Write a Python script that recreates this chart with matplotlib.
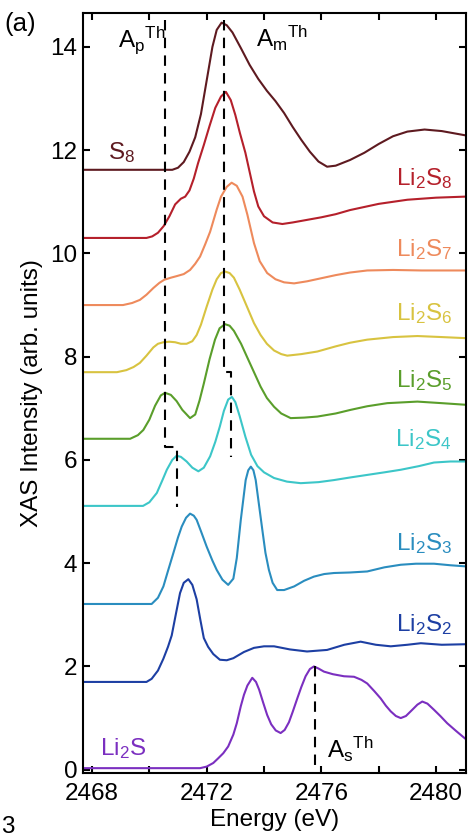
import matplotlib
matplotlib.use("Agg")
import matplotlib.pyplot as plt
from matplotlib.ticker import MultipleLocator

plt.rcParams["font.family"] = ["Liberation Sans", "DejaVu Sans"]
plt.rcParams["mathtext.fontset"] = "custom"
plt.rcParams["mathtext.rm"] = "Liberation Sans"
plt.rcParams["mathtext.it"] = "Liberation Sans"

# S K-edge XAS spectra, vertically offset (energy in eV, intensity in arb. units)
e_s8 = [2467.7, 2470.8, 2471.0, 2471.2, 2471.4, 2471.6, 2471.8, 2472.0, 2472.2, 2472.35,
        2472.52, 2472.7, 2472.9, 2473.2, 2473.5, 2473.8, 2474.1, 2474.4, 2474.7, 2475.0,
        2475.3, 2475.6, 2475.9, 2476.2, 2476.5, 2477.0, 2477.5, 2478.0, 2478.5, 2479.0,
        2479.6, 2480.2, 2481.0]
i_s8 = [11.62, 11.62, 11.66, 11.77, 11.97, 12.25, 12.7, 13.35, 14.0, 14.33,
        14.47, 14.42, 14.28, 13.97, 13.65, 13.38, 13.15, 12.95, 12.72, 12.45,
        12.2, 11.97, 11.78, 11.68, 11.7, 11.81, 11.95, 12.12, 12.27, 12.36,
        12.40, 12.37, 12.29]

e_li2s8 = [2467.7, 2469.9, 2470.1, 2470.3, 2470.5, 2470.7, 2470.9, 2471.1, 2471.25, 2471.4,
           2471.55, 2471.7, 2471.9, 2472.1, 2472.3, 2472.5, 2472.67, 2472.84, 2473.0, 2473.16,
           2473.35, 2473.51, 2473.65, 2473.8, 2474.0, 2474.3, 2474.64, 2475.0, 2475.5, 2476.0,
           2476.5, 2477.0, 2477.5, 2478.0, 2478.5, 2479.0, 2479.5, 2480.0, 2481.0]
i_li2s8 = [10.3, 10.3, 10.33, 10.4, 10.53, 10.72, 10.95, 11.06, 11.1, 11.22,
           11.45, 11.75, 12.1, 12.47, 12.82, 13.04, 13.13, 12.97, 12.68, 12.33,
           11.95, 11.55, 11.2, 10.91, 10.72, 10.6, 10.57, 10.6, 10.65, 10.7,
           10.76, 10.84, 10.9, 10.96, 11.0, 11.04, 11.06, 11.08, 11.1]

e_li2s7 = [2467.7, 2469.08, 2469.4, 2469.67, 2469.9, 2470.14, 2470.35, 2470.52, 2470.75, 2470.95,
           2471.2, 2471.42, 2471.6, 2471.77, 2471.95, 2472.12, 2472.35, 2472.5, 2472.7, 2472.87,
           2473.05, 2473.25, 2473.42, 2473.65, 2473.85, 2474.11, 2474.4, 2474.7, 2475.05, 2475.5,
           2476.0, 2476.5, 2477.0, 2477.6, 2478.5, 2479.5, 2481.0]
i_li2s7 = [9.0, 9.0, 9.04, 9.10, 9.2, 9.33, 9.43, 9.49, 9.53, 9.56,
           9.6, 9.68, 9.8, 9.94, 10.18, 10.42, 10.85, 11.1, 11.29, 11.37,
           11.31, 11.1, 10.75, 10.2, 9.85, 9.62, 9.5, 9.44, 9.42, 9.46,
           9.52, 9.58, 9.63, 9.67, 9.68, 9.67, 9.67]

e_li2s6 = [2467.7, 2468.87, 2469.2, 2469.45, 2469.67, 2469.9, 2470.14, 2470.3, 2470.49, 2470.7,
           2470.9, 2471.1, 2471.3, 2471.5, 2471.65, 2471.8, 2472.0, 2472.2, 2472.35, 2472.5,
           2472.64, 2472.8, 2472.95, 2473.15, 2473.42, 2473.65, 2473.88, 2474.1, 2474.35, 2474.6,
           2474.81, 2475.3, 2475.86, 2476.5, 2477.0, 2477.6, 2478.5, 2479.35, 2480.2, 2481.0]
i_li2s6 = [7.70, 7.70, 7.74, 7.8, 7.88, 8.02, 8.18, 8.25, 8.28, 8.29,
           8.28, 8.25, 8.25, 8.3, 8.42, 8.62, 8.97, 9.3, 9.5, 9.62,
           9.65, 9.62, 9.53, 9.3, 8.95, 8.65, 8.42, 8.25, 8.12, 8.05,
           8.02, 8.05, 8.10, 8.2, 8.27, 8.33, 8.38, 8.40, 8.38, 8.36]

e_li2s5 = [2467.7, 2469.33, 2469.6, 2469.79, 2470.0, 2470.2, 2470.4, 2470.55, 2470.75, 2470.95,
           2471.15, 2471.42, 2471.6, 2471.75, 2471.9, 2472.1, 2472.29, 2472.45, 2472.64, 2472.8,
           2472.95, 2473.2, 2473.42, 2473.65, 2473.88, 2474.1, 2474.35, 2474.6, 2474.93, 2475.4,
           2475.86, 2476.5, 2477.02, 2477.6, 2478.3, 2479.35, 2480.2, 2481.0]
i_li2s5 = [6.41, 6.41, 6.48, 6.58, 6.78, 7.05, 7.25, 7.30, 7.26, 7.14,
           6.97, 6.81, 6.88, 7.15, 7.48, 7.95, 8.33, 8.55, 8.63, 8.6,
           8.5, 8.25, 7.98, 7.7, 7.42, 7.2, 7.03, 6.9, 6.81, 6.82,
           6.84, 6.9, 6.97, 7.04, 7.1, 7.13, 7.1, 7.07]

e_li2s4 = [2467.7, 2469.78, 2470.0, 2470.26, 2470.45, 2470.61, 2470.8, 2470.95, 2471.1, 2471.3,
           2471.5, 2471.71, 2471.9, 2472.12, 2472.3, 2472.46, 2472.6, 2472.75, 2472.88, 2473.0,
           2473.15, 2473.35, 2473.55, 2473.77, 2474.0, 2474.35, 2474.8, 2475.28, 2475.9, 2476.44,
           2477.0, 2477.6, 2478.2, 2478.77, 2479.4, 2479.93, 2480.5, 2481.0]
i_li2s4 = [5.11, 5.11, 5.18, 5.36, 5.6, 5.81, 6.0, 6.08, 6.06, 5.97,
           5.85, 5.78, 5.85, 6.07, 6.35, 6.65, 6.95, 7.17, 7.22, 7.12,
           6.85, 6.45, 6.1, 5.88, 5.76, 5.65, 5.58, 5.55, 5.57, 5.61,
           5.66, 5.71, 5.76, 5.81, 5.88, 5.95, 5.97, 5.97]

e_li2s3 = [2467.7, 2470.08, 2470.3, 2470.49, 2470.65, 2470.84, 2471.0, 2471.13, 2471.28, 2471.42,
           2471.55, 2471.65, 2471.8, 2472.0, 2472.2, 2472.35, 2472.55, 2472.75, 2472.93, 2473.05,
           2473.19, 2473.36, 2473.45, 2473.54, 2473.63, 2473.71, 2473.82, 2473.94, 2474.05, 2474.17,
           2474.3, 2474.46, 2474.7, 2475.05, 2475.4, 2475.74, 2476.1, 2476.44, 2477.0, 2477.6,
           2478.2, 2478.77, 2479.3, 2479.93, 2480.5, 2481.0]
i_li2s3 = [3.21, 3.21, 3.33, 3.55, 3.85, 4.2, 4.5, 4.71, 4.88, 4.96,
           4.92, 4.84, 4.62, 4.32, 4.05, 3.87, 3.68, 3.58, 3.70, 4.1,
           4.84, 5.61, 5.8, 5.87, 5.8, 5.61, 5.15, 4.65, 4.2, 3.87,
           3.62, 3.48, 3.48, 3.55, 3.66, 3.74, 3.79, 3.81, 3.82, 3.84,
           3.92, 3.97, 3.99, 3.99, 3.96, 3.94]

e_li2s2 = [2467.7, 2469.9, 2470.08, 2470.3, 2470.49, 2470.65, 2470.78, 2470.92, 2471.07, 2471.2,
           2471.36, 2471.5, 2471.65, 2471.78, 2471.9, 2472.05, 2472.23, 2472.46, 2472.7, 2472.93,
           2473.3, 2473.65, 2474.0, 2474.35, 2474.9, 2475.5, 2476.2, 2476.8, 2477.37, 2477.9,
           2478.42, 2479.0, 2479.47, 2480.2, 2481.0]
i_li2s2 = [1.70, 1.70, 1.76, 1.92, 2.15, 2.38, 2.6, 3.0, 3.42, 3.62,
           3.69, 3.58, 3.3, 2.9, 2.55, 2.38, 2.24, 2.13, 2.12, 2.16,
           2.28, 2.36, 2.39, 2.39, 2.33, 2.29, 2.32, 2.42, 2.48, 2.42,
           2.39, 2.42, 2.45, 2.42, 2.43]

e_li2s = [2467.7, 2471.77, 2472.0, 2472.23, 2472.4, 2472.58, 2472.75, 2472.93, 2473.05, 2473.19,
          2473.3, 2473.42, 2473.59, 2473.72, 2473.83, 2473.97, 2474.11, 2474.25, 2474.41, 2474.58,
          2474.72, 2474.87, 2475.0, 2475.16, 2475.3, 2475.45, 2475.6, 2475.74, 2475.9, 2476.09,
          2476.4, 2476.79, 2477.14, 2477.4, 2477.6, 2477.85, 2478.07, 2478.25, 2478.42, 2478.6,
          2478.77, 2478.95, 2479.17, 2479.35, 2479.52, 2479.7, 2479.93, 2480.15, 2480.39, 2480.7,
          2481.0]
i_li2s = [0.03, 0.03, 0.06, 0.13, 0.22, 0.32, 0.45, 0.68, 0.9, 1.23,
          1.45, 1.63, 1.78, 1.7, 1.55, 1.3, 1.06, 0.88, 0.76, 0.71,
          0.77, 0.92, 1.12, 1.38, 1.6, 1.81, 1.95, 2.0, 1.96, 1.90,
          1.85, 1.81, 1.80, 1.74, 1.67, 1.52, 1.38, 1.24, 1.13, 1.04,
          1.0, 1.04, 1.16, 1.26, 1.32, 1.28, 1.16, 1.04, 0.90, 0.75,
          0.61]

names = ["S$_8$", "Li$_2$S$_8$", "Li$_2$S$_7$", "Li$_2$S$_6$", "Li$_2$S$_5$",
         "Li$_2$S$_4$", "Li$_2$S$_3$", "Li$_2$S$_2$", "Li$_2$S"]
colors = ["#5e1a20", "#b5202b", "#ee8a5c", "#d8c340", "#5a9e2b",
          "#3cc6c8", "#2a8dbf", "#1d3fa3", "#7b2fc0"]
energies = [e_s8, e_li2s8, e_li2s7, e_li2s6, e_li2s5, e_li2s4, e_li2s3, e_li2s2, e_li2s]
spectra = [i_s8, i_li2s8, i_li2s7, i_li2s6, i_li2s5, i_li2s4, i_li2s3, i_li2s2, i_li2s]

# label anchor: (energy, intensity, horizontal alignment)
label_pos = [(2468.55, 11.82, "left"), (2480.56, 11.33, "right"), (2480.56, 9.94, "right"),
             (2480.56, 8.71, "right"), (2480.56, 7.42, "right"), (2480.56, 6.26, "right"),
             (2480.56, 4.26, "right"), (2480.56, 2.68, "right"), (2468.28, 0.29, "left")]

# threshold markers
ap_x = [2470.55, 2470.55, 2470.95, 2470.95]
ap_y = [14.52, 6.25, 6.25, 5.09]
am_x = [2472.61, 2472.61, 2472.85, 2472.85]
am_y = [14.52, 7.71, 7.71, 6.06]
as_x = [2475.78, 2475.78]
as_y = [2.0, -0.05]

fig = plt.figure(figsize=(4.68, 8.4), dpi=100)
ax = fig.add_axes([0.177, 0.080, 0.819, 0.9047])

fs = 17.5
for e, s, c, name, (lx, ly, ha) in zip(energies, spectra, colors, names, label_pos):
    ax.plot(e, s, color=c, lw=1.5, solid_joinstyle="round")
    ax.text(lx, ly, name, color=c, fontsize=fs, ha=ha, va="baseline")

for xs, ys in [(ap_x, ap_y), (am_x, am_y), (as_x, as_y)]:
    ax.plot(xs, ys, color="black", lw=1.5, dashes=(5, 3.5))

ax.text(2468.91, 14.0, r"A$_\mathregular{p}$$^\mathregular{Th}$", fontsize=fs, va="baseline")
ax.text(2473.71, 14.0, r"A$_\mathregular{m}$$^\mathregular{Th}$", fontsize=fs, va="baseline")
ax.text(2476.21, 0.23, r"A$_\mathregular{s}$$^\mathregular{Th}$", fontsize=fs, va="baseline")

ax.set_xlim(2467.68, 2481.05)
ax.set_ylim(-0.06, 14.66)
ax.xaxis.set_major_locator(MultipleLocator(4))
ax.xaxis.set_minor_locator(MultipleLocator(2))
ax.yaxis.set_major_locator(MultipleLocator(2))
ax.tick_params(which="both", direction="in", top=True, right=True, length=5, width=1.5,
               labelsize=fs)
ax.tick_params(axis="x", pad=7)
ax.tick_params(axis="y", pad=4)
for sp in ax.spines.values():
    sp.set_linewidth(1.5)

ax.set_xlabel("Energy (eV)", fontsize=fs, labelpad=3)
ax.set_ylabel("XAS Intensity (arb. units)", fontsize=fs, labelpad=5)

fig.text(0.010, 0.963, "(a)", fontsize=fs + 1, va="baseline")
fig.text(0.002, 0.008, "3", fontsize=fs, va="baseline")

fig.savefig("out.png", dpi=100)
